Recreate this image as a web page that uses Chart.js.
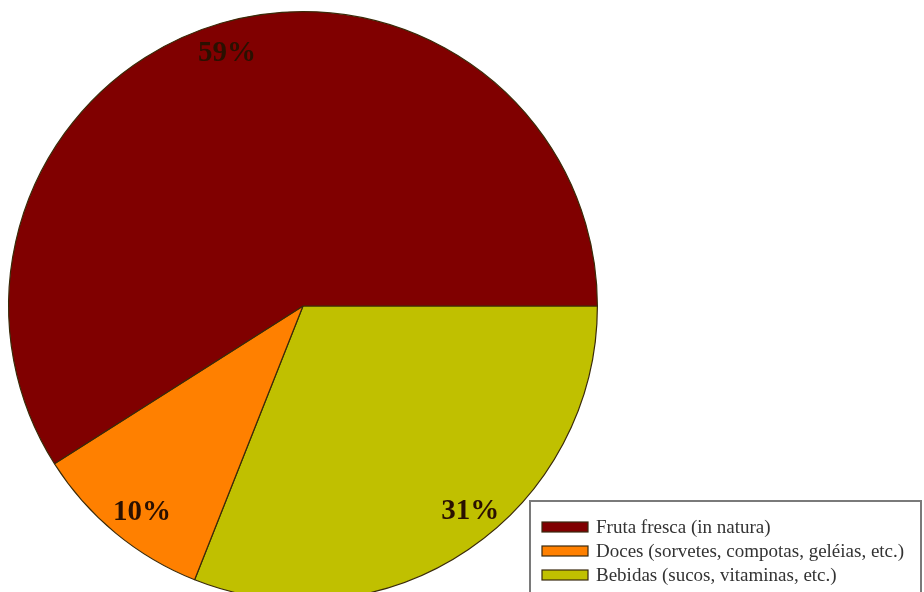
<!DOCTYPE html>
<html>
<head>
<meta charset="utf-8">
<script src="https://cdn.jsdelivr.net/npm/chart.js@4/dist/chart.umd.min.js"></script>
<style>
  html, body { margin: 0; padding: 0; background: #fff; overflow: hidden; }
  #wrap { width: 924px; height: 592px; overflow: hidden; position: relative; }
  #chart { display: block; }
</style>
</head>
<body>
<div id="wrap"><canvas id="chart" width="924" height="612"></canvas></div>
<script>
// Consumption shares, listed clockwise from 3 o'clock
const categories = [
  'Bebidas (sucos, vitaminas, etc.)',
  'Doces (sorvetes, compotas, geléias, etc.)',
  'Fruta fresca (in natura)'
];
const shares = [31, 10, 59];
const sliceColors = ['#C0C000', '#FF8000', '#800000'];
// Legend lists the categories in this order
const legendOrder = [2, 1, 0];

// Small per-slice nudges (px) so labels sit clear of the slice edges
const labelNudge = [[20, -11], [6, 5], [-3, -1]];

// Percentage labels placed inside each slice near the rim
const sliceLabels = {
  id: 'sliceLabels',
  afterDatasetsDraw(chart) {
    const { ctx } = chart;
    const meta = chart.getDatasetMeta(0);
    ctx.save();
    ctx.font = 'bold 29px "Liberation Serif", "Times New Roman", serif';
    ctx.fillStyle = '#2a1000';
    ctx.textAlign = 'center';
    ctx.textBaseline = 'middle';
    meta.data.forEach((arc, i) => {
      const mid = (arc.startAngle + arc.endAngle) / 2;
      const r = arc.outerRadius * 0.89;
      const x = arc.x + Math.cos(mid) * r + labelNudge[i][0];
      const y = arc.y + Math.sin(mid) * r + labelNudge[i][1];
      ctx.fillText(shares[i] + '%', x, y);
    });
    ctx.restore();
  }
};

// Boxed legend in the lower right corner
const boxLegend = {
  id: 'boxLegend',
  afterDraw(chart) {
    const { ctx } = chart;
    const left = 530, top = 501, right = 921, bottom = 610;
    ctx.save();
    ctx.fillStyle = '#ffffff';
    ctx.fillRect(left, top, right - left, bottom - top);
    ctx.strokeStyle = '#7a7a7a';
    ctx.lineWidth = 2;
    ctx.strokeRect(left, top, right - left, bottom - top);
    ctx.font = '19px "Liberation Serif", "Times New Roman", serif';
    ctx.textBaseline = 'middle';
    legendOrder.forEach((idx, row) => {
      const cy = 527 + row * 24;
      ctx.fillStyle = sliceColors[idx];
      ctx.fillRect(542, cy - 5, 46, 10);
      ctx.strokeStyle = '#3a2a10';
      ctx.lineWidth = 1.2;
      ctx.strokeRect(542, cy - 5, 46, 10);
      ctx.fillStyle = '#333333';
      ctx.fillText(categories[idx], 596, cy + 1);
    });
    ctx.restore();
  }
};

new Chart(document.getElementById('chart'), {
  type: 'pie',
  data: {
    labels: categories,
    datasets: [{
      data: shares,
      backgroundColor: sliceColors,
      borderColor: '#3a2a08',
      borderWidth: 1.2
    }]
  },
  options: {
    responsive: false,
    animation: false,
    rotation: 90,
    layout: { padding: { left: 8, right: 326, top: 11, bottom: 11 } },
    plugins: {
      legend: { display: false },
      tooltip: { enabled: false }
    }
  },
  plugins: [sliceLabels, boxLegend]
});
</script>
</body>
</html>
